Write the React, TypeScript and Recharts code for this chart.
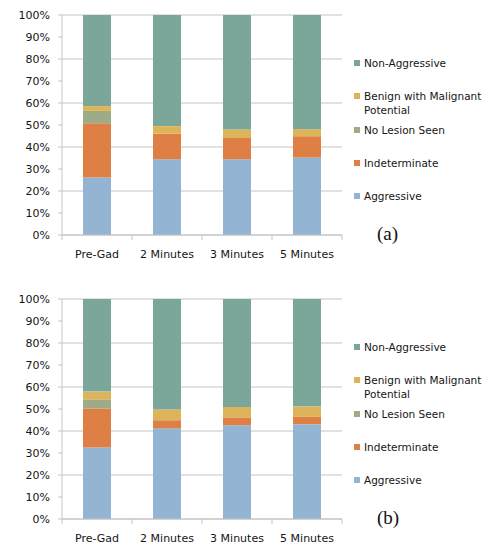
import React from "react";
import { BarChart, Bar, XAxis, YAxis, CartesianGrid, Legend } from "recharts";

const categories = ["Pre-Gad", "2 Minutes", "3 Minutes", "5 Minutes"];
const yTicks = [0, 0.1, 0.2, 0.3, 0.4, 0.5, 0.6, 0.7, 0.8, 0.9, 1];

// Chart (a)
const aggressiveA = [26.1, 34.4, 34.4, 35.2];
const indeterminateA = [24.7, 11.7, 9.7, 9.7];
const noLesionA = [5.6, 0, 0, 0];
const benignA = [2.2, 3.4, 3.9, 3.2];
const nonAggressiveA = [41.4, 50.5, 52.0, 51.9];

// Chart (b)
const aggressiveB = [32.5, 41.2, 42.6, 43.1];
const indeterminateB = [17.7, 3.7, 3.6, 3.3];
const noLesionB = [4.2, 0, 0, 0];
const benignB = [3.5, 4.9, 4.7, 4.8];
const nonAggressiveB = [42.1, 50.2, 49.1, 48.8];

const seriesNames = [
  "Aggressive",
  "Indeterminate",
  "No Lesion Seen",
  "Benign with Malignant Potential",
  "Non-Aggressive",
];
const seriesColors = ["#94B4D4", "#DE8046", "#9DAB86", "#DDB45A", "#7BA79A"];

const buildData = (cols: number[][]) =>
  categories.map((c, i) => {
    const row: Record<string, string | number> = { category: c };
    seriesNames.forEach((s, j) => {
      row[s] = cols[j][i];
    });
    return row;
  });

const dataA = buildData([aggressiveA, indeterminateA, noLesionA, benignA, nonAggressiveA]);
const dataB = buildData([aggressiveB, indeterminateB, noLesionB, benignB, nonAggressiveB]);

const FONT = "'DejaVu Sans', sans-serif";
const TEXT = "#151515";
const GRID = "#c4c4c4";
const X_TICK_SIZE = 5;
const X_TICK_MARGIN = 10;

const LegendBox = () => (
  <div style={{ fontFamily: FONT, fontSize: 10.5, color: TEXT }}>
    {seriesNames
      .map((n, i) => ({ n, c: seriesColors[i] }))
      .reverse()
      .map((it) => (
        <div key={it.n} style={{ height: 33.3, display: "flex", alignItems: "flex-start" }}>
          <div style={{ width: 6, height: 6, background: it.c, marginTop: 4, marginRight: 4, flex: "none" }} />
          <div style={{ width: 124, lineHeight: "14px" }}>{it.n}</div>
        </div>
      ))}
  </div>
);

const CategoryTick = (props: any) => {
  const { x, y, payload, index, visibleTicksCount } = props;
  const half = payload && payload.offset ? payload.offset : 0;
  const axisY = y - X_TICK_SIZE - X_TICK_MARGIN;
  const isLast = index === (visibleTicksCount ?? categories.length) - 1;
  return (
    <g>
      <line x1={x - half} x2={x - half} y1={axisY} y2={axisY + X_TICK_SIZE} stroke={GRID} />
      {isLast && <line x1={x + half} x2={x + half} y1={axisY} y2={axisY + X_TICK_SIZE} stroke={GRID} />}
      <text x={x} y={y} dy="0.71em" textAnchor="middle" fontFamily={FONT} fontSize={11} fill={TEXT}>
        {payload.value}
      </text>
    </g>
  );
};

const StackChart = ({ data, label }: { data: Record<string, string | number>[]; label: string }) => (
  <div style={{ position: "relative", width: 494, height: 273 }}>
    <BarChart
      width={494}
      height={273}
      data={data}
      stackOffset="expand"
      barCategoryGap="30%"
      margin={{ top: 15, right: 12, bottom: 8, left: 12 }}
    >
      <CartesianGrid vertical={false} stroke={GRID} />
      <XAxis
        dataKey="category"
        height={30}
        tickLine={false}
        tickSize={X_TICK_SIZE}
        tickMargin={X_TICK_MARGIN}
        axisLine={{ stroke: GRID }}
        tick={<CategoryTick />}
        interval={0}
      />
      <YAxis
        width={50}
        domain={[0, 1]}
        ticks={yTicks}
        tickFormatter={(v: number) => `${Math.round(v * 100)}%`}
        tickSize={4}
        tickMargin={8}
        axisLine={{ stroke: GRID }}
        tickLine={{ stroke: GRID }}
        tick={{ fontFamily: FONT, fontSize: 11, fill: TEXT }}
      />
      <Legend
        layout="vertical"
        align="right"
        verticalAlign="top"
        width={140}
        wrapperStyle={{ left: 354, top: 56, width: 140 }}
        content={() => <LegendBox />}
      />
      {seriesNames.map((s, i) => (
        <Bar key={s} dataKey={s} stackId="s" fill={seriesColors[i]} isAnimationActive={false} />
      ))}
    </BarChart>
    <div
      style={{
        position: "absolute",
        left: 377,
        top: 223,
        fontFamily: "'Liberation Serif', serif",
        fontSize: 19,
        color: "#111",
      }}
    >
      {label}
    </div>
  </div>
);

export default function App() {
  return (
    <div style={{ position: "absolute", left: 0, top: 0, width: 494, height: 546, background: "#fff" }}>
      <div style={{ position: "absolute", left: 0, top: 0 }}>
        <StackChart data={dataA} label="(a)" />
      </div>
      <div style={{ position: "absolute", left: 0, top: 284 }}>
        <StackChart data={dataB} label="(b)" />
      </div>
    </div>
  );
}
